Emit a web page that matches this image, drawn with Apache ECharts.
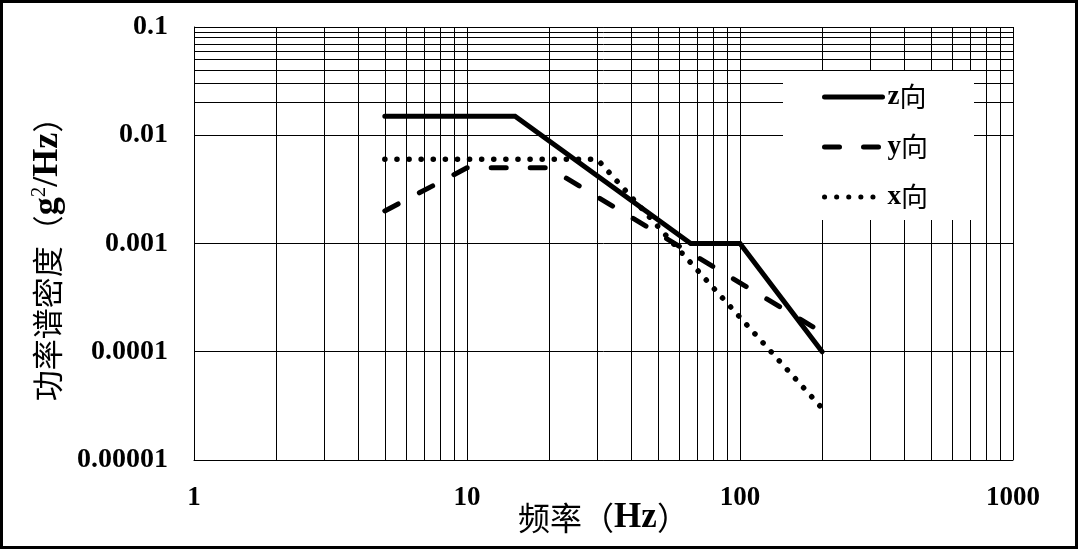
<!DOCTYPE html>
<html>
<head>
<meta charset="utf-8">
<script src="https://cdn.jsdelivr.net/npm/echarts@6/dist/echarts.min.js"></script>
<style>
html,body{margin:0;padding:0;background:#fff;}
#c{width:1078px;height:549px;}
</style>
</head>
<body>
<div id="c"></div>
<script>
// ---- data ----
const seriesNames = ['z向', 'y向', 'x向'];
const zFreq = [5, 15, 66, 100, 200];
const zPSD  = [0.015, 0.015, 0.001, 0.001, 0.0001];
const yFreq = [5, 10, 20, 185];
const yPSD  = [0.002, 0.005, 0.005, 0.00017];
const xFreq = [5, 30, 200];
const xPSD  = [0.006, 0.006, 0.00003];
const xTickLabels = ['1', '10', '100', '1000'];
const yTickLabels = ['0.00001', '0.0001', '0.001', '0.01', '0.1'];
const minorMultipliers = [2, 3, 4, 5, 6, 7, 8, 9];
const xDecades = [1, 10, 100];
const yDecades = [0.00001, 0.0001, 0.001, 0.01];

const pairs = (f, v) => f.map((x, i) => [x, v[i]]);
const xMinor = [], yMinor = [];
xDecades.forEach(d => minorMultipliers.forEach(m => xMinor.push(d * m)));
yDecades.forEach(d => minorMultipliers.forEach(m => yMinor.push(+(d * m).toPrecision(3))));

const serif = "'Liberation Serif','Times New Roman',serif";
const cjk = "'Noto Sans CJK SC',sans-serif";

const chart = echarts.init(document.getElementById('c'), null, {renderer: 'canvas'});
chart.setOption({
  animation: false,
  backgroundColor: '#fff',
  grid: {left: 194, right: 65, top: 27, bottom: 89, containLabel: false},
  graphic: [{
    type: 'rect', z: 100,
    shape: {x: 1.5, y: 1.5, width: 1075, height: 546},
    style: {fill: 'none', stroke: '#000', lineWidth: 3}
  }],
  legend: {
    data: seriesNames,
    orient: 'vertical',
    left: 783, top: 71,
    padding: [11, 46, 8, 39],
    backgroundColor: '#fff',
    itemWidth: 58, itemHeight: 14, itemGap: 20,
    itemStyle: {opacity: 0},
    lineStyle: {width: 5, cap: 'round'},
    formatter: n => '{l|' + n.slice(0, 1) + '}{c|' + n.slice(1) + '}',
    textStyle: {
      color: '#000', lineHeight: 30,
      rich: {
        l: {fontFamily: serif, fontWeight: 'bold', fontSize: 27, color: '#000', lineHeight: 30},
        c: {fontFamily: cjk, fontSize: 27, color: '#000', lineHeight: 30}
      }
    }
  },
  xAxis: {
    type: 'log', logBase: 10, min: 1, max: 1000,
    name: '{c|频率（}{b|Hz}{c|）}',
    nameLocation: 'middle', nameGap: 40, nameMoveOverlap: false,
    nameTextStyle: {
      color: '#000',
      rich: {
        c: {fontFamily: cjk, fontSize: 32, color: '#000'},
        b: {fontFamily: serif, fontWeight: 'bold', fontSize: 35, color: '#000'}
      }
    },
    axisLine: {show: true, lineStyle: {color: '#000', width: 1}},
    axisTick: {show: false},
    axisLabel: {
      color: '#000', fontFamily: serif, fontWeight: 'bold', fontSize: 27, margin: 25,
      formatter: v => xTickLabels[Math.round(Math.log10(v))]
    },
    splitLine: {show: true, lineStyle: {color: '#000', width: 1}}
  },
  yAxis: {
    type: 'log', logBase: 10, min: 0.00001, max: 0.1,
    name: '{c|功率谱密度（}{b|g}{p|2}{b|/Hz}{c|）}{s| }',
    nameLocation: 'middle', nameGap: 128, nameRotate: 90, nameMoveOverlap: false,
    nameTextStyle: {
      color: '#000',
      rich: {
        c: {fontFamily: cjk, fontSize: 31, color: '#000'},
        s: {fontFamily: cjk, fontSize: 31, width: 16},
        b: {fontFamily: serif, fontWeight: 'bold', fontSize: 36, color: '#000'},
        p: {fontFamily: serif, fontSize: 21, color: '#000', verticalAlign: 'top', padding: [0, 0, 16, 0]}
      }
    },
    axisLine: {show: true, lineStyle: {color: '#000', width: 1}},
    axisTick: {show: false},
    axisLabel: {
      color: '#000', fontFamily: serif, fontWeight: 'bold', fontSize: 28, margin: 26,
      formatter: v => yTickLabels[Math.round(Math.log10(v)) + 5]
    },
    splitLine: {show: true, lineStyle: {color: '#000', width: 1}}
  },
  series: [
    {
      type: 'line', z: 1, silent: true, data: [],
      markLine: {
        silent: true, z: 1, symbol: ['none', 'none'], animation: false,
        label: {show: false},
        emphasis: {disabled: true},
        lineStyle: {color: '#000', width: 1, type: 'solid'},
        data: xMinor.map(v => ({xAxis: v})).concat(yMinor.map(v => ({yAxis: v})))
      }
    },
    {
      name: seriesNames[0], type: 'line', z: 5, symbol: 'none',
      data: pairs(zFreq, zPSD),
      lineStyle: {color: '#000', width: 5, cap: 'round', join: 'miter'},
      itemStyle: {color: '#000'}
    },
    {
      name: seriesNames[1], type: 'line', z: 5, symbol: 'none',
      data: pairs(yFreq, yPSD),
      lineStyle: {color: '#000', width: 5, type: [15, 24], cap: 'round'},
      itemStyle: {color: '#000'}
    },
    {
      name: seriesNames[2], type: 'line', z: 5, symbol: 'none',
      data: pairs(xFreq, xPSD),
      lineStyle: {color: '#000', width: 5.5, type: [0.1, 12], cap: 'round'},
      itemStyle: {color: '#000'}
    }
  ]
});
</script>
</body>
</html>
